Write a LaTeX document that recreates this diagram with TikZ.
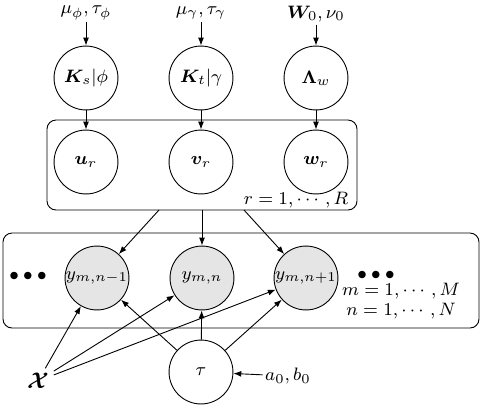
\documentclass[tikz,border=0pt]{standalone}
\usepackage{amsmath,bm}
\usetikzlibrary{arrows.meta}
\begin{document}
\begin{tikzpicture}[x=0.4444pt,y=-0.4444pt,
  every node/.style={font=\fontsize{8.5}{10}\selectfont},
  var/.style={circle,draw,minimum size=28.4pt,inner sep=0pt},
  obs/.style={var,fill=gray!20},
  plate/.style={draw,rounded corners=4pt},
  arr/.style={-{Latex[length=3.5pt,width=2.6pt]}},
  lbl/.style={inner sep=1pt}]
\useasboundingbox (0,0) rectangle (482,408);
% plates
\draw[plate] (47,120) rectangle (357,210);
\draw[plate] (3,233) rectangle (479,328);
% top hyperparameters
\node[lbl] (hp1) at (86,13) {$\mu_\phi,\tau_\phi$};
\node[lbl] (hp2) at (201,13) {$\mu_\gamma,\tau_\gamma$};
\node[lbl] (hp3) at (316,14) {$\bm{W}_0,\nu_0$};
% prior nodes
\node[var] (Ks) at (86,78) {$\bm{K}_s|\phi$};
\node[var] (Kt) at (201,78) {$\bm{K}_t|\gamma$};
\node[var] (Lw) at (316,78) {$\bm{\Lambda}_w$};
% factor nodes
\node[var] (u) at (86,162) {$\bm{u}_r$};
\node[var] (v) at (201,162) {$\bm{v}_r$};
\node[var] (w) at (316,162) {$\bm{w}_r$};
\node[lbl] (rlab) at (296,200) {$r=1,\cdots,R$};
% observed nodes
\node[obs] (y1) at (97,278) {$y_{m,n-1}$};
\node[obs] (y2) at (202,278) {$y_{m,n}$};
\node[obs] (y3) at (306,278) {$y_{m,n+1}$};
\node[lbl] (dl) at (28,276) {$\bullet\bullet\bullet$};
\node[lbl] (dr) at (376,275) {$\bullet\bullet\bullet$};
\node[inner sep=0pt] (mlab) at (401,291) {$m=1,\cdots,M$};
\node[inner sep=0pt] (nlab) at (401,311) {$n=1,\cdots,N$};
% bottom
\node[var] (tau) at (201,372) {$\tau$};
\node[lbl] (ab) at (288,376) {$a_0,b_0$};
\node[inner sep=2pt,font=\fontsize{10}{12}\selectfont] (X) at (38,381) {$\bm{\mathcal{X}}$};
% plate exit points
\coordinate (p1) at (159,210);
\coordinate (p2) at (202,210);
\coordinate (p3) at (244,210);
% edges
\draw[arr] (hp1) -- (Ks);
\draw[arr] (hp2) -- (Kt);
\draw[arr] (hp3) -- (Lw);
\draw[arr] (Ks) -- (u);
\draw[arr] (Kt) -- (v);
\draw[arr] (Lw) -- (w);
\draw[arr] (p1) -- (y1);
\draw[arr] (p2) -- (y2);
\draw[arr] (p3) -- (y3);
\draw[arr] (tau) -- (y1);
\draw[arr] (tau) -- (y2);
\draw[arr] (tau) -- (y3);
\draw[arr] (ab) -- (tau);
\draw[arr] (X) -- (y1);
\draw[arr] (X) -- (y2);
\draw[arr] (X) -- (y3);
\end{tikzpicture}
\end{document}
